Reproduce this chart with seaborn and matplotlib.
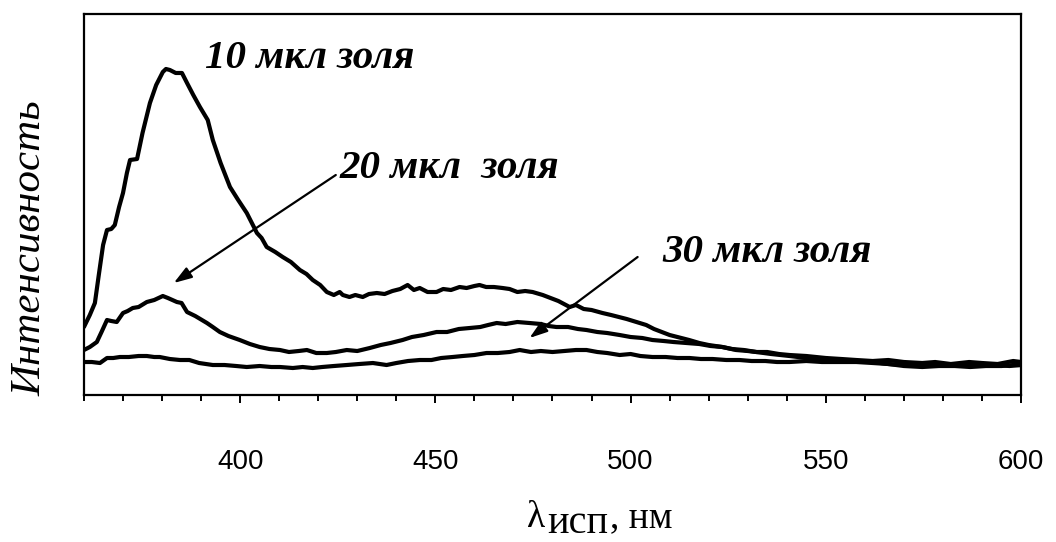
import numpy as np
import pandas as pd
import matplotlib
matplotlib.use("Agg")
import matplotlib.pyplot as plt
import seaborn as sns

# Emission spectra of the sol at three volumes (wavelength, nm / intensity, a.u.)
wl_10 = [360.0, 361.5, 362.8, 363.8, 364.9, 365.9, 367.0, 367.9, 369.0, 370.0, 371.0, 371.8,
         373.6, 375.0, 376.9, 378.5, 380.2, 381.0, 382.0, 383.5, 385.1, 386.4, 388.0, 389.7,
         391.7, 393.0, 395.0, 397.4, 399.5, 401.7, 403.0, 404.3, 405.5, 406.8, 409.0, 410.9,
         413.0, 415.3, 417.0, 418.6, 420.5, 422.2, 424.0, 425.5, 426.3, 428.0, 429.5, 431.4,
         433.0, 435.0, 437.0, 439.0, 441.0, 442.9, 444.5, 446.0, 448.0, 450.3, 452.0, 454.0,
         456.2, 458.0, 460.0, 461.3, 463.0, 465.0, 467.2, 469.0, 471.0, 473.0, 474.9, 477.5,
         479.5, 481.5, 484.4, 486.0, 488.0, 490.0, 492.8, 495.0, 497.0, 499.0, 501.5, 504.0,
         506.0, 508.0, 510.0, 513.0, 515.0, 517.6, 520.0, 523.5, 526.0, 529.0, 532.2, 535.0,
         538.0, 540.7, 545.0, 550.0, 554.0, 557.8, 562.0, 566.0, 570.0, 574.7, 578.0, 582.0,
         586.7, 590.0, 594.0, 598.0, 600.0]
int_10 = [68, 80, 92, 120, 150, 165, 166, 170, 188, 202, 222, 235,
          236, 262, 292, 310, 323, 326, 325, 322, 322, 312, 300, 288,
          275, 255, 232, 208, 195, 182, 172, 162, 157, 148, 143, 138,
          133, 125, 121, 115, 110, 103, 100, 103, 100, 98, 100, 98,
          101, 102, 101, 104, 106, 110, 105, 107, 103, 103, 106, 105,
          108, 107, 109, 110, 108, 108, 107, 106, 103, 104, 103, 100,
          97, 94, 88, 90, 86, 85, 82, 80, 78, 76, 73, 70,
          66, 63, 60, 57, 55, 52, 50, 48, 46, 45, 43, 43,
          41, 40, 39, 37, 36, 35, 34, 35, 33, 32, 33, 31,
          33, 32, 31, 34, 33]

wl_20 = [360.0, 361.5, 363.3, 364.5, 365.9, 367.0, 368.4, 370.0, 371.2, 372.5, 374.0, 376.1,
         378.0, 380.2, 381.5, 383.8, 385.0, 386.4, 388.5, 391.5, 393.0, 394.8, 397.0, 399.9,
         402.5, 405.0, 407.5, 410.2, 412.5, 415.0, 417.1, 419.5, 422.2, 424.5, 427.3, 430.0,
         433.2, 436.0, 438.5, 441.6, 444.0, 447.0, 450.3, 453.0, 456.0, 458.8, 461.5, 463.5,
         465.7, 468.0, 471.0, 474.1, 477.0, 479.0, 481.0, 484.0, 486.5, 488.7, 491.5, 494.0,
         497.2, 500.0, 503.0, 505.6, 508.5, 511.0, 514.3, 517.6, 520.5, 523.5, 527.0, 530.0,
         532.2, 536.0, 540.7, 545.0, 550.0, 554.0, 557.8, 562.0, 566.0, 570.0, 574.7, 578.0,
         582.0, 586.0, 590.0, 594.0, 597.0, 600.0]
int_20 = [45, 48, 53, 63, 75, 74, 73, 82, 84, 87, 88, 93,
          95, 99, 97, 93, 92, 83, 79, 72, 68, 63, 59, 55,
          51, 48, 46, 45, 43, 44, 45, 42, 42, 43, 45, 44,
          47, 50, 52, 55, 58, 60, 63, 63, 66, 67, 68, 70,
          72, 71, 73, 72, 71, 69, 68, 68, 66, 65, 63, 62,
          60, 58, 57, 55, 54, 53, 52, 51, 49, 48, 45, 44,
          43, 41, 39, 37, 36, 35, 34, 33, 31, 30, 29, 31,
          30, 29, 31, 30, 29, 30]

wl_30 = [360.0, 362.0, 364.1, 365.9, 367.5, 369.2, 371.5, 374.0, 376.1, 378.0, 379.4, 382.0,
         384.6, 387.0, 389.5, 393.0, 396.0, 399.0, 401.7, 405.0, 408.0, 410.2, 413.5, 416.0,
         418.6, 421.0, 424.0, 427.3, 430.5, 434.0, 437.5, 440.0, 443.0, 446.0, 449.0, 451.5,
         454.4, 457.0, 460.0, 463.1, 466.0, 469.0, 471.6, 474.5, 477.0, 480.0, 483.0, 486.0,
         488.7, 491.5, 494.0, 497.2, 500.0, 502.5, 505.6, 509.0, 512.0, 515.1, 518.0, 521.0,
         524.5, 527.9, 531.0, 534.5, 537.5, 540.7, 545.0, 549.0, 553.0, 557.8, 562.0, 566.0,
         570.0, 574.7, 579.0, 583.0, 587.0, 591.0, 595.0, 598.0, 600.0]
int_30 = [33, 33, 32, 37, 37, 38, 38, 39, 39, 38, 38, 36,
          35, 35, 32, 30, 30, 29, 28, 29, 28, 28, 27, 28,
          27, 28, 29, 30, 31, 32, 30, 32, 34, 35, 35, 37,
          38, 39, 40, 42, 42, 43, 45, 43, 44, 43, 44, 45,
          45, 43, 42, 40, 41, 39, 38, 38, 37, 37, 36, 36,
          35, 35, 34, 34, 33, 33, 34, 33, 33, 33, 32, 31,
          29, 28, 29, 29, 28, 29, 29, 30, 30]

x_ticks = [400, 450, 500, 550, 600]

spectra = pd.concat([
    pd.DataFrame({"wl": wl_10, "intensity": int_10, "volume": "10"}),
    pd.DataFrame({"wl": wl_20, "intensity": int_20, "volume": "20"}),
    pd.DataFrame({"wl": wl_30, "intensity": int_30, "volume": "30"}),
], ignore_index=True)

sns.set_theme(style="ticks")
plt.rcParams["font.family"] = ["Liberation Sans", "DejaVu Sans"]

fig = plt.figure(figsize=(10.56, 5.42), dpi=100)
ax = fig.add_axes([0.0795, 0.2712, 0.8874, 0.7030])

sns.lineplot(data=spectra, x="wl", y="intensity", hue="volume",
             palette=["black"] * 3, estimator=None, sort=True,
             linewidth=3.0, legend=False, ax=ax)

ax.set_xlim(360, 600)
ax.set_ylim(0, 381)
ax.set_xticks(x_ticks)
ax.set_xticks(np.arange(360, 601, 10), minor=True)
ax.set_yticks([])
ax.tick_params(axis="x", which="major", direction="out", length=6, width=1.4,
               color="black", pad=33, labelsize=20, labelcolor="black")
ax.tick_params(axis="x", which="minor", direction="out", length=4, width=1.4,
               color="black")
for sp in ax.spines.values():
    sp.set_visible(True)
    sp.set_linewidth(1.6)
    sp.set_color("black")
ax.set_xlabel("")
ax.set_ylabel("")

# curve labels with arrows
lab_font = dict(family="Liberation Serif", style="italic", weight="bold",
                size=29.5, color="black")
ax.text(391.0, 327, "10 мкл золя", ha="left", va="baseline", **lab_font)
ax.text(425.5, 217, "20 мкл  золя", ha="left", va="baseline", **lab_font)
ax.text(508.2, 133, "30 мкл золя", ha="left", va="baseline", **lab_font)

arrow_kw = dict(arrowstyle="-|>,head_length=0.9,head_width=0.3",
                color="black", lw=1.6, shrinkA=0, shrinkB=0)
ax.annotate("", xy=(383.0, 112), xytext=(424.5, 220), arrowprops=arrow_kw)
ax.annotate("", xy=(474.1, 57), xytext=(501.8, 138), arrowprops=arrow_kw)

# axis titles
fig.text(0.029, 0.5424, "Интенсивность", rotation=90, ha="center", va="center",
         family="Liberation Serif", style="italic", size=31, color="black")
serif = dict(family="Liberation Serif", color="black", va="baseline")
fig.text(0.499, 0.027, "λ", ha="left", size=27, **serif)
fig.text(0.518, 0.0175, "исп", ha="left", size=29, **serif)
fig.text(0.578, 0.027, ", нм", ha="left", size=27, **serif)

fig.savefig("out.png", dpi=100, facecolor="white")
